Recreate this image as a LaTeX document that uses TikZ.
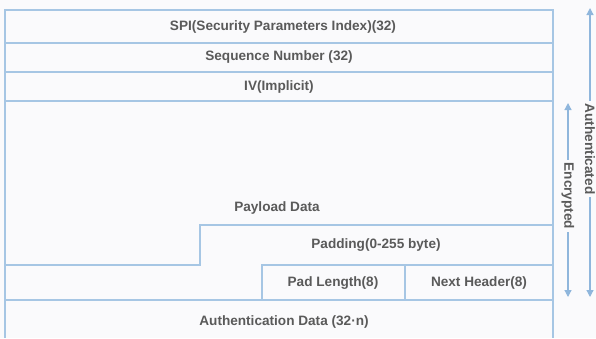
\documentclass[tikz,border=0pt]{standalone}
\usepackage{fontspec}
\setmainfont{Liberation Sans}
\usetikzlibrary{arrows.meta}
\definecolor{bg}{HTML}{FAFAFC}
\definecolor{ln}{HTML}{A6C6E4}
\definecolor{arr}{HTML}{8FB6DC}
\definecolor{tx}{HTML}{5A5A5A}
\tikzset{
  field/.style={text=tx, font=\bfseries\fontsize{13.6}{15}\selectfont, inner sep=1pt},
  grid/.style={draw=ln, line width=1.3pt},
  span/.style={draw=arr, line width=1.2pt, {Triangle[length=7pt,width=7pt]}-{Triangle[length=7pt,width=7pt]}},
  spanlabel/.style={text=tx, font=\bfseries\fontsize{13.6}{15}\selectfont, fill=bg, inner sep=3pt, rotate=-90}
}
\begin{document}
\begin{tikzpicture}[x=1pt,y=-1pt]
\fill[bg] (0,0) rectangle (596,338);
\useasboundingbox (0,0) rectangle (596,338);
% grid lines
\draw[grid] (5,338) -- (5,10) -- (553,10) -- (553,338);
\draw[grid] (5,43) -- (553,43);
\draw[grid] (5,72) -- (553,72);
\draw[grid] (5,101) -- (553,101);
\draw[grid] (5,265) -- (200,265) -- (200,225) -- (553,225);
\draw[grid] (262,300) -- (262,265) -- (553,265);
\draw[grid] (405,265) -- (405,300);
\draw[grid] (5,300) -- (553,300);
% field labels
\node[field] (spi) at (283,27) {SPI(Security Parameters Index)(32)};
\node[field] (seq) at (279,57) {Sequence Number (32)};
\node[field] (iv) at (279,87) {IV(Implicit)};
\node[field] (pay) at (277,208) {Payload Data};
\node[field] (pad) at (376,245) {Padding(0-255 byte)};
\node[field] (padlen) at (333,283) {Pad Length(8)};
\node[field] (nh) at (479,283) {Next Header(8)};
\node[field] (auth) at (284,322) {Authentication Data (32·n)};
% spans
\coordinate (atop) at (590,8);
\coordinate (abot) at (590,297);
\coordinate (etop) at (568,103);
\coordinate (ebot) at (568,297);
\draw[span] (atop) -- (abot);
\draw[span] (etop) -- (ebot);
\node[spanlabel] (alab) at (590,149) {Authenticated};
\node[spanlabel] (elab) at (568,196) {Encrypted};
\end{tikzpicture}
\end{document}
